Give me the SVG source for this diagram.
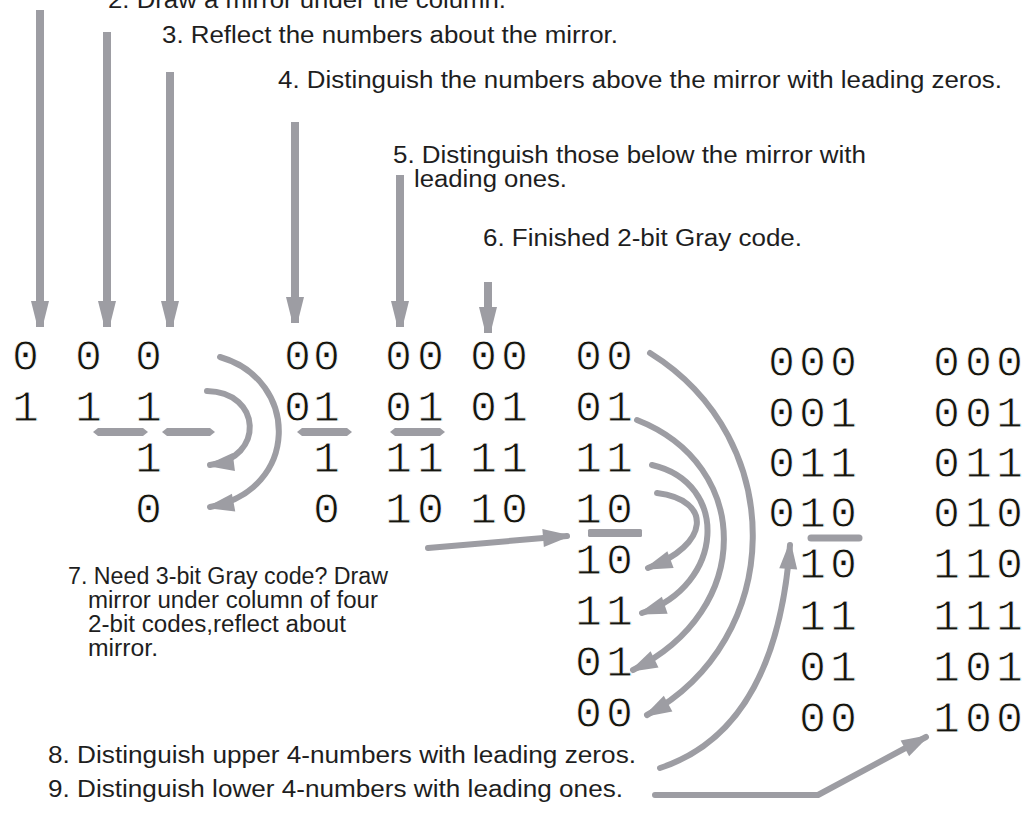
<svg xmlns="http://www.w3.org/2000/svg" width="1026" height="815" viewBox="0 0 1026 815">
  <style>
    .lbl { font-family: "Liberation Sans", Arial, sans-serif; font-size: 23.5px; fill: #1e1e1e; }
    /* monospaced digits, slightly trimmed by a thin white outline */
    .d { font-family: "Liberation Mono", "Courier New", monospace; font-size: 45px; fill: #15150e; stroke: #ffffff; stroke-width: 0.9px; }
    .shaft { fill: none; stroke: #9d9da3; stroke-width: 8; }
    .arc { fill: none; stroke: #9d9da3; stroke-width: 6; stroke-linecap: round; }
    .mirror { fill: #9d9da3; }
  </style>
  <defs>
    <!-- blunt head for the straight drop arrows -->
    <marker id="dropHead" markerUnits="userSpaceOnUse" markerWidth="30" markerHeight="24" viewBox="-2 -12 30 24" refX="26" refY="0" orient="auto">
      <path d="M0,-9 L24,-3 Q27,0 24,3 L0,9 Z" fill="#9d9da3"/>
    </marker>
    <!-- head for the curved and bent arrows -->
    <marker id="curveHead" markerUnits="userSpaceOnUse" markerWidth="30" markerHeight="24" viewBox="-2 -12 30 24" refX="24" refY="0" orient="auto">
      <path d="M0,-9 L24,-1.5 L24,1.5 L0,9 Z" fill="#9d9da3"/>
    </marker>
  </defs>

  <rect width="1026" height="815" fill="#ffffff"/>

  <!-- step labels -->
  <g id="step2"><text class="lbl" x="108" y="8" textLength="398" lengthAdjust="spacingAndGlyphs">2. Draw a mirror under the column.</text></g>
  <g id="step3"><text class="lbl" x="162" y="43" textLength="456" lengthAdjust="spacingAndGlyphs">3. Reflect the numbers about the mirror.</text></g>
  <g id="step4"><text class="lbl" x="278" y="88" textLength="724" lengthAdjust="spacingAndGlyphs">4. Distinguish the numbers above the mirror with leading zeros.</text></g>
  <g id="step5">
    <text class="lbl" x="393" y="163" textLength="473" lengthAdjust="spacingAndGlyphs">5. Distinguish those below the mirror with</text>
    <text class="lbl" x="414" y="187" textLength="153" lengthAdjust="spacingAndGlyphs">leading ones.</text>
  </g>
  <g id="step6"><text class="lbl" x="483" y="246" textLength="319" lengthAdjust="spacingAndGlyphs">6. Finished 2-bit Gray code.</text></g>
  <g id="step7">
    <text class="lbl" x="68" y="584" textLength="320" lengthAdjust="spacingAndGlyphs">7. Need 3-bit Gray code? Draw</text>
    <text class="lbl" x="88" y="608" textLength="290" lengthAdjust="spacingAndGlyphs">mirror under column of four</text>
    <text class="lbl" x="88" y="632" textLength="258" lengthAdjust="spacingAndGlyphs">2-bit codes,reflect about</text>
    <text class="lbl" x="88" y="656" textLength="70" lengthAdjust="spacingAndGlyphs">mirror.</text>
  </g>
  <g id="step8"><text class="lbl" x="48" y="763" textLength="588" lengthAdjust="spacingAndGlyphs">8. Distinguish upper 4-numbers with leading zeros.</text></g>
  <g id="step9"><text class="lbl" x="48" y="797" textLength="575" lengthAdjust="spacingAndGlyphs">9. Distinguish lower 4-numbers with leading ones.</text></g>

  <!-- 1-bit columns -->
  <g id="colA">
    <text class="d" x="12" y="370">0</text>
    <text class="d" x="12" y="421">1</text>
  </g>
  <g id="colB">
    <text class="d" x="75" y="370">0</text>
    <text class="d" x="75" y="421">1</text>
  </g>
  <g id="colC">
    <text class="d" x="135" y="370">0</text>
    <text class="d" x="135" y="421">1</text>
    <text class="d" x="135" y="472">1</text>
    <text class="d" x="135" y="523">0</text>
  </g>
  <!-- 2-bit columns -->
  <g id="colD">
    <text class="d" x="284 313" y="370">00</text>
    <text class="d" x="284 313" y="421">01</text>
    <text class="d" x="313" y="472">1</text>
    <text class="d" x="313" y="523">0</text>
  </g>
  <g id="colE">
    <text class="d" x="385 417" y="370">00</text>
    <text class="d" x="385 417" y="421">01</text>
    <text class="d" x="385 417" y="472">11</text>
    <text class="d" x="385 417" y="523">10</text>
  </g>
  <g id="colF">
    <text class="d" x="470 501" y="370">00</text>
    <text class="d" x="470 501" y="421">01</text>
    <text class="d" x="470 501" y="472">11</text>
    <text class="d" x="470 501" y="523">10</text>
  </g>
  <g id="colG">
    <text class="d" x="575 606" y="370">00</text>
    <text class="d" x="575 606" y="421">01</text>
    <text class="d" x="575 606" y="472">11</text>
    <text class="d" x="575 606" y="523">10</text>
    <text class="d" x="575 606" y="574">10</text>
    <text class="d" x="575 606" y="625">11</text>
    <text class="d" x="575 606" y="676">01</text>
    <text class="d" x="575 606" y="727">00</text>
  </g>
  <!-- 3-bit columns -->
  <g id="colH">
    <text class="d" x="768 799 830" y="376">000</text>
    <text class="d" x="768 799 830" y="427">001</text>
    <text class="d" x="768 799 830" y="477">011</text>
    <text class="d" x="768 799 830" y="527">010</text>
    <text class="d" x="799 830" y="578">10</text>
    <text class="d" x="799 830" y="630">11</text>
    <text class="d" x="799 830" y="681">01</text>
    <text class="d" x="799 830" y="732">00</text>
  </g>
  <g id="colI">
    <text class="d" x="933 965 996" y="376">000</text>
    <text class="d" x="933 965 996" y="427">001</text>
    <text class="d" x="933 965 996" y="477">011</text>
    <text class="d" x="933 965 996" y="527">010</text>
    <text class="d" x="933 965 996" y="578">110</text>
    <text class="d" x="933 965 996" y="630">111</text>
    <text class="d" x="933 965 996" y="681">101</text>
    <text class="d" x="933 965 996" y="732">100</text>
  </g>

  <!-- mirrors -->
  <g id="mirrors">
    <polygon class="mirror" points="93,432 98,428 143,428 148,432 143,436 98,436"/>
    <polygon class="mirror" points="162,432 167,428 210,428 215,432 210,436 167,436"/>
    <polygon class="mirror" points="297,432 302,428 347,428 352,432 347,436 302,436"/>
    <polygon class="mirror" points="390,432 395,428 440,428 445,432 440,436 395,436"/>
    <rect class="mirror" x="588" y="529" width="54" height="8" rx="1.5"/>
    <line x1="811" y1="538" x2="859" y2="538" stroke="#9d9da3" stroke-width="7" stroke-linecap="round"/>
  </g>

  <!-- connectors -->
  <g id="connectors">
    <line class="shaft" x1="40" y1="10" x2="40" y2="327" marker-end="url(#dropHead)"/>
    <line class="shaft" x1="107" y1="32" x2="107" y2="327" marker-end="url(#dropHead)"/>
    <line class="shaft" x1="170" y1="72" x2="170" y2="327" marker-end="url(#dropHead)"/>
    <line class="shaft" x1="295" y1="122" x2="295" y2="323" marker-end="url(#dropHead)"/>
    <line class="shaft" x1="400" y1="175" x2="400" y2="327" marker-end="url(#dropHead)"/>
    <line class="shaft" x1="488" y1="282" x2="488" y2="333" marker-end="url(#dropHead)"/>

    <path class="arc" d="M207 391 C262 392 265 458 210 465" marker-end="url(#curveHead)"/>
    <path class="arc" d="M220 357 C300 380 300 490 210 507" marker-end="url(#curveHead)"/>

    <path class="arc" d="M657 493 C713 500 710 545 648 568" marker-end="url(#curveHead)"/>
    <path class="arc" d="M652 465 C730 483 725 585 642 613" marker-end="url(#curveHead)"/>
    <path class="arc" d="M637 420 C752 465 755 610 633 670" marker-end="url(#curveHead)"/>
    <path class="arc" d="M650 353 C790 440 785 640 647 715" marker-end="url(#curveHead)"/>

    <line class="arc" x1="428" y1="548" x2="567" y2="536" marker-end="url(#curveHead)"/>
    <path class="arc" d="M660 768 C730 745 780 680 790 545" marker-end="url(#curveHead)"/>
    <polyline class="arc" points="655,795 818,795 926,737" stroke-linejoin="round" marker-end="url(#curveHead)"/>
  </g>
</svg>
